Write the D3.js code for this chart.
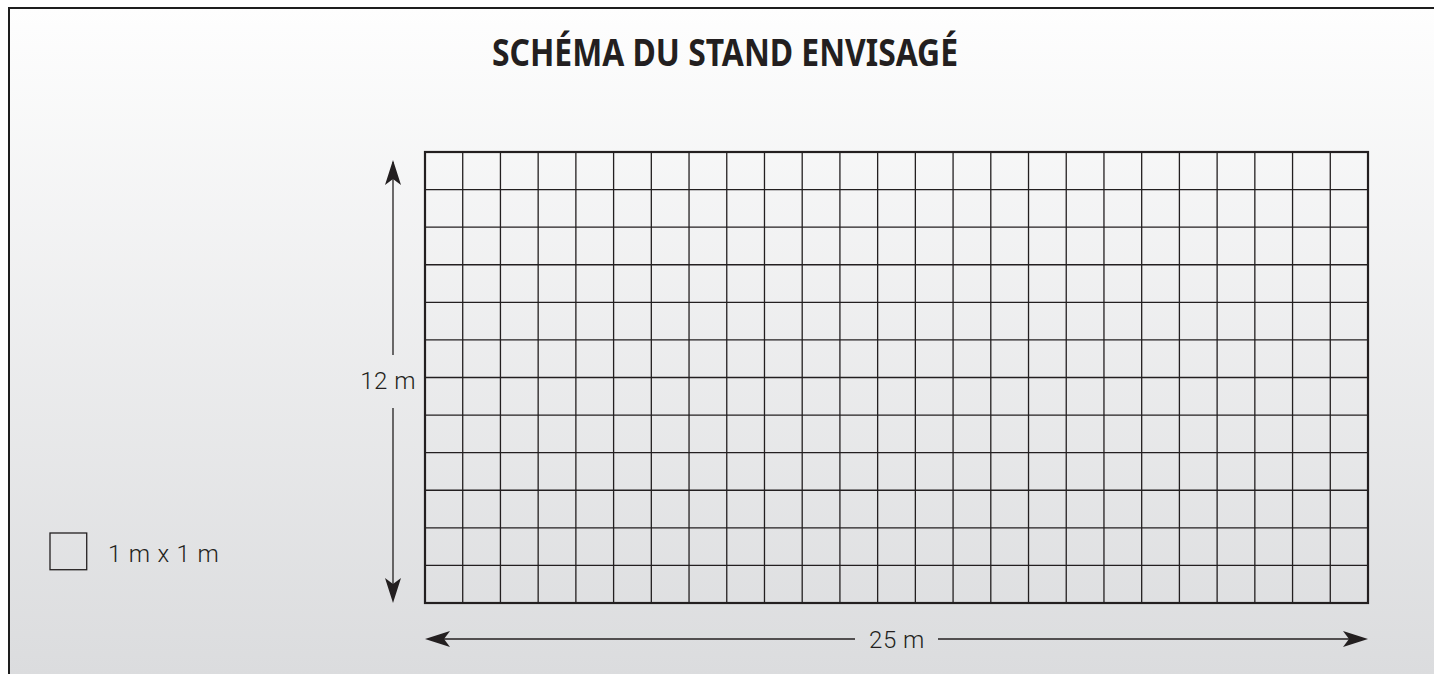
<!DOCTYPE html>
<html>
<head>
<meta charset="utf-8">
<script src="https://cdn.jsdelivr.net/npm/d3@7"></script>
<style>
  html, body { margin: 0; padding: 0; background: #fff; overflow: hidden; }
  svg { display: block; }
</style>
</head>
<body>
<svg id="schema" width="1434" height="674"></svg>
<script>
// stand dimensions in metres
const standWidth = 25
const standDepth = 12
const colTicks = d3.range(0, standWidth + 1)
const rowTicks = d3.range(0, standDepth + 1)
const titleText = "SCHÉMA DU STAND ENVISAGÉ"
const widthLabel = "25 m"
const depthLabel = "12 m"
const legendLabel = "1 m x 1 m"

const WIDTH = 1434
const HEIGHT = 674
const GRID = { left: 425, right: 1368, top: 152, bottom: 603 }

const svg = d3.select("#schema")

const defs = svg.append("defs")
const grad = defs.append("linearGradient")
  .attr("id", "bg").attr("x1", 0).attr("y1", 0).attr("x2", 0).attr("y2", 1)
grad.append("stop").attr("offset", "0%").attr("stop-color", "#fefefe")
grad.append("stop").attr("offset", "100%").attr("stop-color", "#dbdcde")

// panel background, frame only on top and left edges
svg.append("rect")
  .attr("x", 9).attr("y", 8)
  .attr("width", WIDTH - 9).attr("height", HEIGHT - 8)
  .attr("fill", "url(#bg)")
svg.append("path")
  .attr("d", "M9," + HEIGHT + "V8H" + WIDTH)
  .attr("fill", "none")
  .attr("stroke", "#1e1e1e")
  .attr("stroke-width", 2)

svg.append("text")
  .attr("x", 725).attr("y", 66)
  .attr("text-anchor", "middle")
  .attr("font-family", "'Noto Sans', sans-serif")
  .attr("font-weight", 700)
  .attr("font-size", 37)
  .attr("textLength", 466)
  .attr("lengthAdjust", "spacingAndGlyphs")
  .attr("fill", "#231f20")
  .text(titleText)

const x = d3.scaleLinear().domain([0, standWidth]).range([GRID.left, GRID.right])
const y = d3.scaleLinear().domain([0, standDepth]).range([GRID.top, GRID.bottom])

const grid = svg.append("g")
grid.selectAll("line.v")
  .data(colTicks.slice(1, -1))
  .join("line")
  .attr("class", "v")
  .attr("x1", d => x(d)).attr("x2", d => x(d))
  .attr("y1", y(0)).attr("y2", y(standDepth))
  .attr("stroke", "#231f20").attr("stroke-width", 1.3)
grid.selectAll("line.h")
  .data(rowTicks.slice(1, -1))
  .join("line")
  .attr("class", "h")
  .attr("x1", x(0)).attr("x2", x(standWidth))
  .attr("y1", d => y(d)).attr("y2", d => y(d))
  .attr("stroke", "#231f20").attr("stroke-width", 1.3)
grid.append("rect")
  .attr("x", x(0)).attr("y", y(0))
  .attr("width", x(standWidth) - x(0))
  .attr("height", y(standDepth) - y(0))
  .attr("fill", "none")
  .attr("stroke", "#231f20").attr("stroke-width", 2.2)

// arrowheads, tip at tx,ty pointing along angle (deg)
function arrowHead(tx, ty, angle) {
  svg.append("path")
    .attr("d", "M0,0 L-25,-8 L-19,0 L-25,8 Z")
    .attr("transform", "translate(" + tx + "," + ty + ") rotate(" + angle + ")")
    .attr("fill", "#231f20")
}

const ax = 393
const labelFont = "Roboto, 'Liberation Sans', sans-serif"

// vertical dimension
svg.append("line").attr("x1", ax).attr("x2", ax)
  .attr("y1", 162).attr("y2", 355)
  .attr("stroke", "#231f20").attr("stroke-width", 1.3)
svg.append("line").attr("x1", ax).attr("x2", ax)
  .attr("y1", 408).attr("y2", y(standDepth) - 4)
  .attr("stroke", "#231f20").attr("stroke-width", 1.3)
arrowHead(ax, 160, -90)
arrowHead(ax, y(standDepth), 90)
svg.append("text")
  .attr("x", 416).attr("y", 389)
  .attr("text-anchor", "end")
  .attr("font-family", labelFont).attr("font-weight", 300)
  .attr("font-size", 24).attr("letter-spacing", 0.5).attr("fill", "#231f20")
  .text(depthLabel)

// horizontal dimension
const ay = 639
svg.append("line").attr("x1", x(0) + 4).attr("x2", 855)
  .attr("y1", ay).attr("y2", ay)
  .attr("stroke", "#231f20").attr("stroke-width", 1.3)
svg.append("line").attr("x1", 938).attr("x2", x(standWidth) - 4)
  .attr("y1", ay).attr("y2", ay)
  .attr("stroke", "#231f20").attr("stroke-width", 1.3)
arrowHead(x(0), ay, 180)
arrowHead(x(standWidth), ay, 0)
svg.append("text")
  .attr("x", 897).attr("y", 648)
  .attr("text-anchor", "middle")
  .attr("font-family", labelFont).attr("font-weight", 300)
  .attr("font-size", 24).attr("letter-spacing", 0.5).attr("fill", "#231f20")
  .text(widthLabel)

// legend
const cell = x(1) - x(0)
svg.append("rect")
  .attr("x", 50).attr("y", 533)
  .attr("width", cell - 1).attr("height", cell - 1)
  .attr("fill", "none")
  .attr("stroke", "#231f20").attr("stroke-width", 1.3)
svg.append("text")
  .attr("x", 108).attr("y", 562)
  .attr("font-family", labelFont).attr("font-weight", 300)
  .attr("font-size", 24).attr("letter-spacing", 0.8).attr("fill", "#231f20")
  .text(legendLabel)
</script>
</body>
</html>
